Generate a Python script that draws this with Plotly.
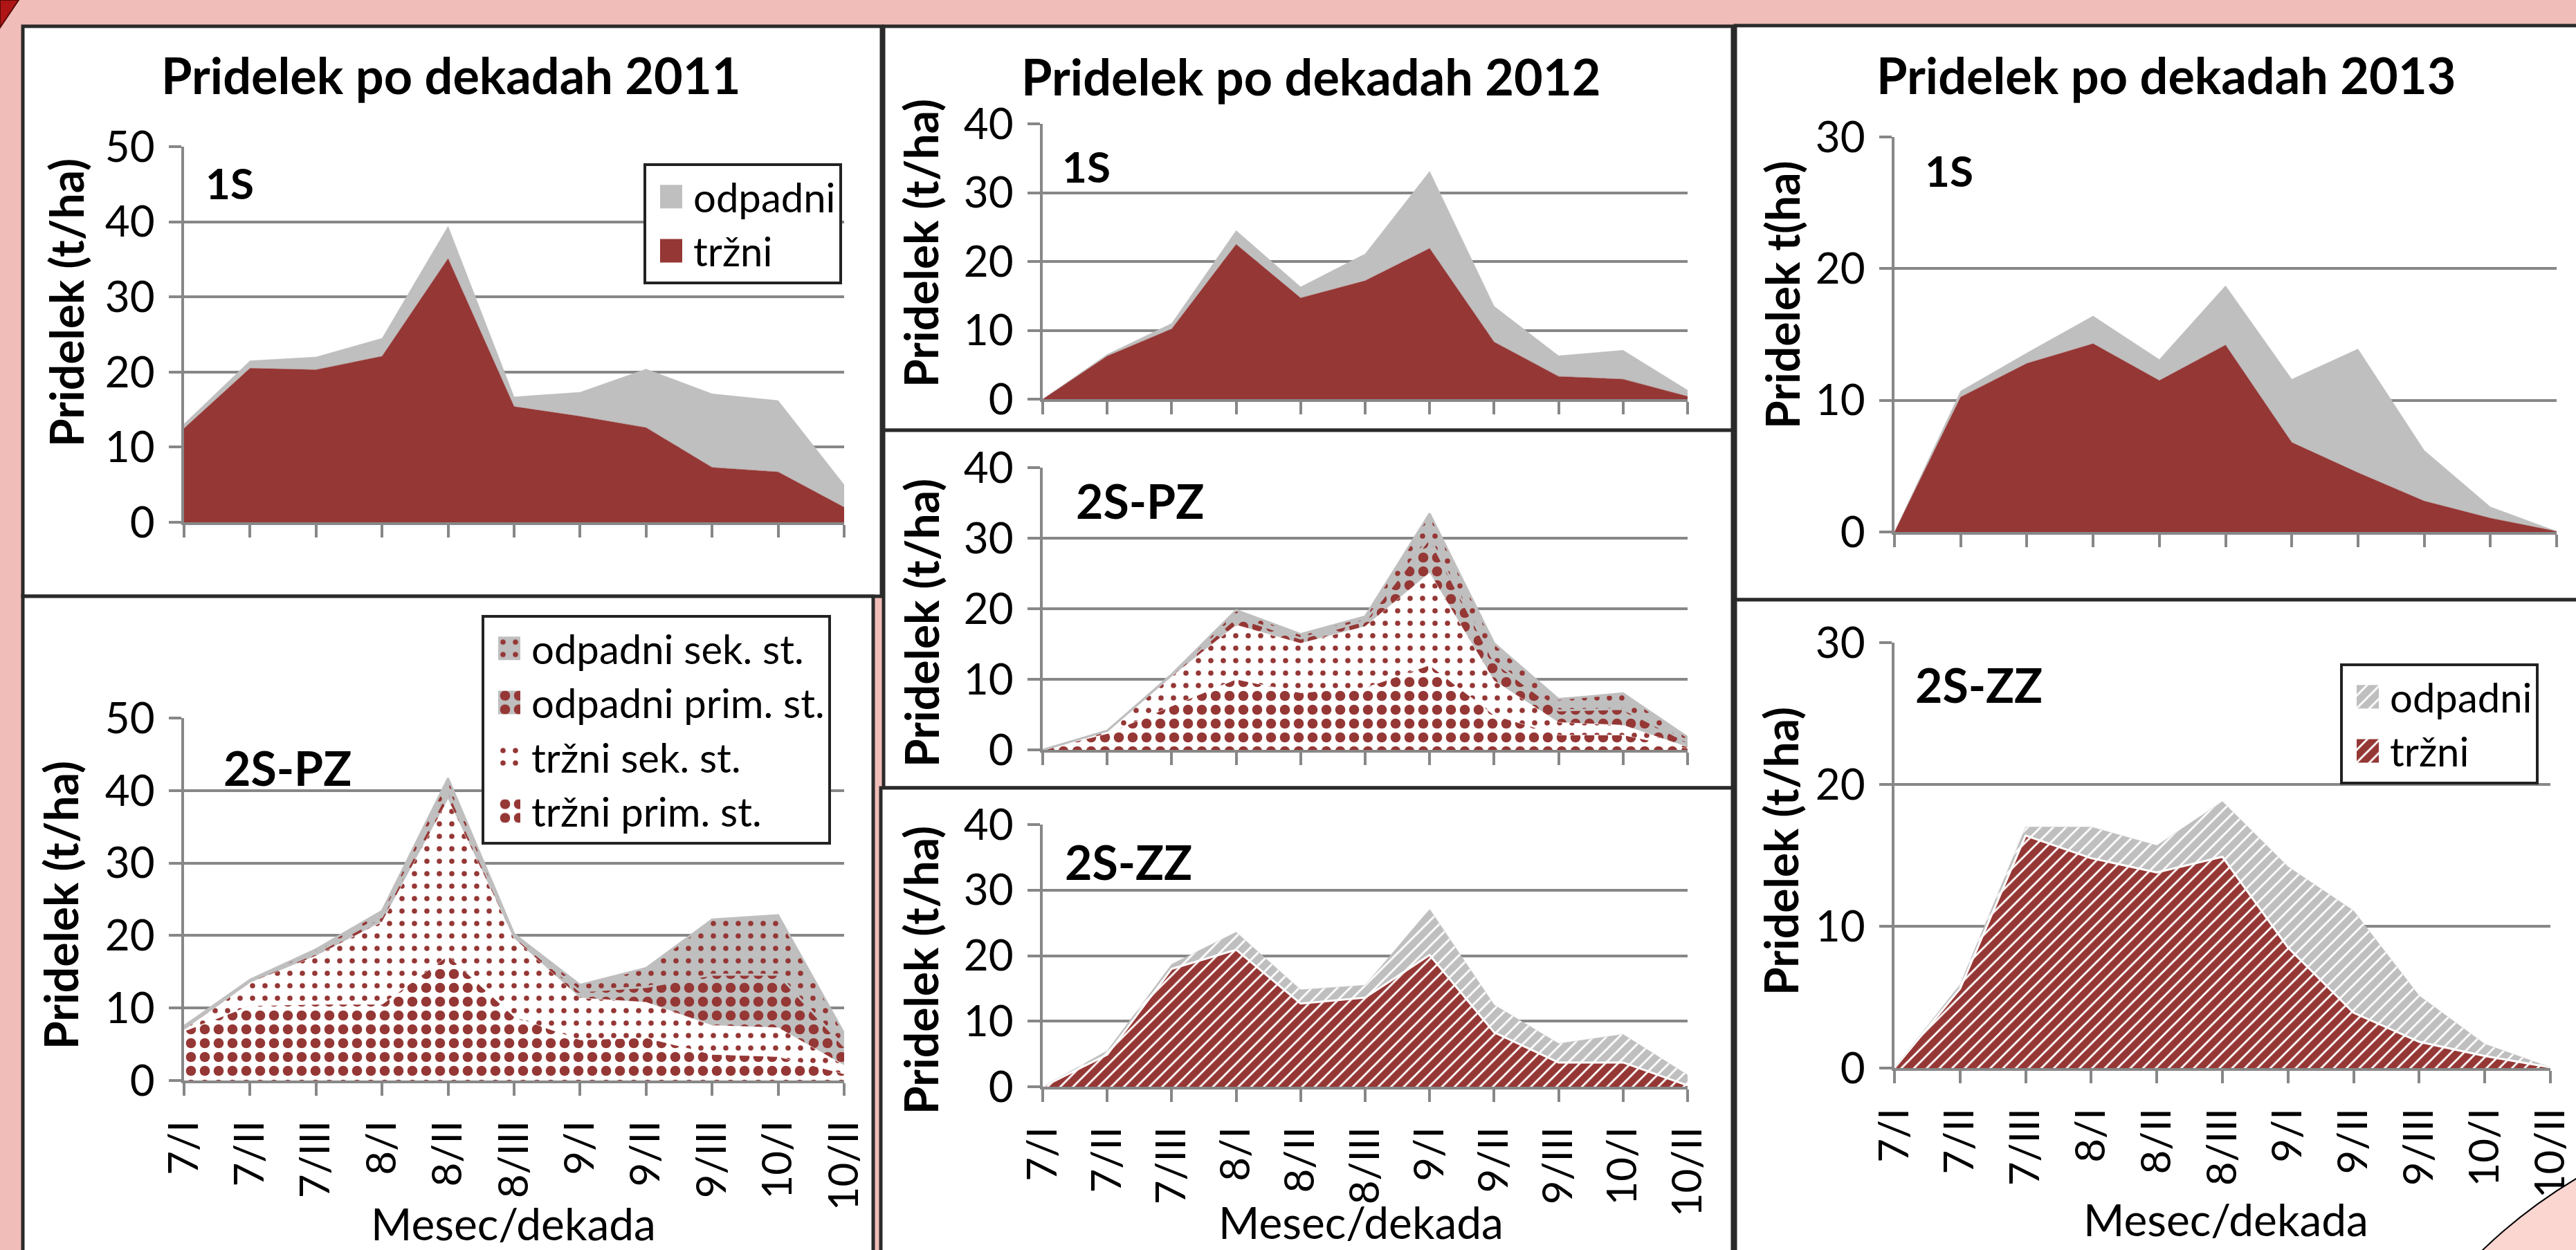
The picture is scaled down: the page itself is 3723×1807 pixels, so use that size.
import plotly.graph_objects as go

# ---------------- data ----------------
cats = ["7/I", "7/II", "7/III", "8/I", "8/II", "8/III", "9/I", "9/II", "9/III", "10/I", "10/II"]

# 2011 - 1S
trzni_2011_1s = [12.5, 20.5, 20.3, 22.1, 35.1, 15.4, 14.1, 12.6, 7.3, 6.7, 2.0]
odpadni_2011_1s = [0.6, 1.0, 1.7, 2.4, 4.3, 1.3, 3.2, 7.8, 9.8, 9.5, 3.0]

# 2011 - 2S-PZ
trzni_prim_2011 = [6.8, 10.3, 10.5, 10.5, 17.2, 8.8, 5.6, 5.9, 3.6, 3.3, 0.9]
trzni_sek_2011 = [0.2, 3.2, 6.7, 11.4, 21.6, 10.8, 5.8, 4.9, 4.0, 4.0, 1.2]
odpadni_prim_2011 = [0.2, 0.2, 0.4, 0.7, 1.2, 0.3, 0.9, 2.1, 7.0, 7.3, 2.6]
odpadni_sek_2011 = [0.3, 0.2, 0.5, 0.8, 1.7, 0.3, 0.9, 2.6, 7.6, 8.2, 1.8]

# 2012 - 1S
trzni_2012_1s = [0, 6.25, 10.2, 22.5, 14.7, 17.2, 21.9, 8.3, 3.3, 2.9, 0.4]
odpadni_2012_1s = [0, 0.25, 0.8, 2.0, 1.6, 3.9, 11.2, 5.2, 3.0, 4.2, 0.9]

# 2012 - 2S-PZ
trzni_prim_2012 = [0, 2.3, 6.2, 10.0, 8.1, 8.8, 12.0, 4.9, 2.1, 2.1, 0.2]
trzni_sek_2012 = [0, 0.4, 4.2, 7.7, 7.0, 8.7, 13.1, 4.9, 1.8, 1.4, 0.2]
odpadni_prim_2012 = [0, 0, 0.2, 1.1, 0.7, 0.8, 4.9, 2.7, 1.7, 2.3, 0.7]
odpadni_sek_2012 = [0, 0, 0.1, 1.0, 0.6, 0.6, 3.5, 2.6, 1.6, 2.2, 0.7]

# 2012 - 2S-ZZ
trzni_2012_zz = [0, 4.9, 18.0, 20.9, 12.7, 13.6, 20.1, 8.3, 3.7, 3.7, 0.2]
odpadni_2012_zz = [0, 0.6, 0.7, 2.7, 2.1, 1.9, 7.0, 4.2, 2.9, 4.3, 1.6]

# 2013 - 1S
trzni_2013_1s = [0, 10.25, 12.8, 14.3, 11.5, 14.2, 6.8, 4.5, 2.35, 1.05, 0.05]
odpadni_2013_1s = [0, 0.45, 0.8, 2.1, 1.6, 4.5, 4.8, 9.4, 3.85, 0.85, 0]

# 2013 - 2S-ZZ
trzni_2013_zz = [0, 5.6, 16.4, 14.8, 13.8, 14.9, 8.5, 3.9, 1.85, 0.85, 0.05]
odpadni_2013_zz = [0, 0.3, 0.6, 2.2, 1.9, 3.9, 5.7, 7.2, 3.25, 0.85, 0]

titles = ["Pridelek po dekadah 2011", "Pridelek po dekadah 2012", "Pridelek po dekadah 2013"]
ytitle = "Pridelek (t/ha)"
ytitle_2013_1s = "Pridelek t(ha)"
xtitle = "Mesec/dekada"

# ---------------- styling ----------------
W, H = 3723, 1807
RED = "#953735"
GRAY = "#BFBFBF"
GRID = "#878787"
BG = "#F0BDB8"
FONT = "Lato"


def px(x):
    return x / W


def py(y):
    return 1 - y / H


fig = go.Figure()

panels = {
    "A": dict(n=1, x0=266, x1=1220, yb=755, yt=212, ymax=50, xl=False),
    "B": dict(n=2, x0=266, x1=1220, yb=1562, yt=1038, ymax=50, xl=True),
    "C": dict(n=3, x0=1507, x1=2439, yb=577, yt=179, ymax=40, xl=False),
    "D": dict(n=4, x0=1507, x1=2439, yb=1084, yt=676, ymax=40, xl=False),
    "E": dict(n=5, x0=1507, x1=2439, yb=1571, yt=1192, ymax=40, xl=True),
    "F": dict(n=6, x0=2738, x1=3695, yb=769, yt=198, ymax=30, xl=False),
    "G": dict(n=7, x0=2738, x1=3686, yb=1544, yt=929, ymax=30, xl=True),
}


def axn(p, kind):
    n = panels[p]["n"]
    return kind if n == 1 else f"{kind}{n}"


def solid_pair(p, trz, odp, legend=None):
    show = legend is not None
    fig.add_trace(go.Scatter(
        x=cats, y=trz, name="tržni", stackgroup=p, mode="lines",
        line=dict(width=0.5, color=RED), fillcolor=RED,
        xaxis=axn(p, "x"), yaxis=axn(p, "y"), showlegend=show,
        legend=legend or "legend"))
    fig.add_trace(go.Scatter(
        x=cats, y=odp, name="odpadni", stackgroup=p, mode="lines",
        line=dict(width=0.5, color=GRAY), fillcolor=GRAY,
        xaxis=axn(p, "x"), yaxis=axn(p, "y"), showlegend=show,
        legend=legend or "legend"))


def zz_pair(p, trz, odp, legend=None):
    show = legend is not None
    fig.add_trace(go.Scatter(
        x=cats, y=trz, name="tržni", stackgroup=p, mode="lines",
        line=dict(width=3, color="white"), fillcolor=RED,
        fillpattern=dict(shape="/", fgcolor="white", bgcolor=RED, size=13, solidity=0.22, fgopacity=1),
        xaxis=axn(p, "x"), yaxis=axn(p, "y"), showlegend=show,
        legend=legend or "legend"))
    fig.add_trace(go.Scatter(
        x=cats, y=odp, name="odpadni", stackgroup=p, mode="lines",
        line=dict(width=0.5, color=GRAY), fillcolor=GRAY,
        fillpattern=dict(shape="/", fgcolor="white", bgcolor=GRAY, size=13, solidity=0.22, fgopacity=1),
        xaxis=axn(p, "x"), yaxis=axn(p, "y"), showlegend=show,
        legend=legend or "legend"))


def pz_quad(p, tp, ts, op, os_, legend=None):
    show = legend is not None
    specs = [
        ("tržni prim. st.", tp, "white", dict(shape=".", fgcolor=RED, bgcolor="white", size=20, solidity=0.42, fgopacity=1), "white"),
        ("tržni sek. st.", ts, "white", dict(shape=".", fgcolor=RED, bgcolor="white", size=18, solidity=0.14, fgopacity=1), "white"),
        ("odpadni prim. st.", op, GRAY, dict(shape=".", fgcolor=RED, bgcolor=GRAY, size=20, solidity=0.42, fgopacity=1), GRAY),
        ("odpadni sek. st.", os_, GRAY, dict(shape=".", fgcolor=RED, bgcolor=GRAY, size=18, solidity=0.14, fgopacity=1), GRAY),
    ]
    for name, vals, fc, pat, lc in specs:
        fig.add_trace(go.Scatter(
            x=cats, y=vals, name=name, stackgroup=p, mode="lines",
            line=dict(width=3 if lc == GRAY else 0.5, color=lc), fillcolor=fc,
            fillpattern=pat,
            xaxis=axn(p, "x"), yaxis=axn(p, "y"), showlegend=show,
            legend=legend or "legend"))


solid_pair("A", trzni_2011_1s, odpadni_2011_1s, legend="legend")
pz_quad("B", trzni_prim_2011, trzni_sek_2011, odpadni_prim_2011, odpadni_sek_2011, legend="legend2")
solid_pair("C", trzni_2012_1s, odpadni_2012_1s)
pz_quad("D", trzni_prim_2012, trzni_sek_2012, odpadni_prim_2012, odpadni_sek_2012)
zz_pair("E", trzni_2012_zz, odpadni_2012_zz)
solid_pair("F", trzni_2013_1s, odpadni_2013_1s)
zz_pair("G", trzni_2013_zz, odpadni_2013_zz, legend="legend3")

layout = dict(
    width=W, height=H, margin=dict(l=0, r=0, t=0, b=0, pad=0, autoexpand=False),
    paper_bgcolor=BG, plot_bgcolor="white",
    font=dict(family=FONT, color="black"),
)

for key, p in panels.items():
    n = p["n"]
    xk = "xaxis" if n == 1 else f"xaxis{n}"
    yk = "yaxis" if n == 1 else f"yaxis{n}"
    layout[xk] = dict(
        domain=[px(p["x0"]), px(p["x1"])], anchor=axn(key, "y"),
        type="category", range=[0, 10], showgrid=False, zeroline=False,
        showline=True, linecolor=GRID, linewidth=4,
        ticks="outside", ticklen=18, tickwidth=4, tickcolor=GRID,
        showticklabels=p["xl"], tickangle=-90,
        tickfont=dict(size=60, family=FONT, color="black"),
        ticklabelstandoff=12, fixedrange=True, automargin=False,
    )
    layout[yk] = dict(
        domain=[py(p["yb"]), py(p["yt"])], anchor=axn(key, "x"),
        range=[0, p["ymax"]], dtick=10, showgrid=True, gridcolor=GRID, gridwidth=4,
        zeroline=False, showline=True, linecolor=GRID, linewidth=4,
        ticks="outside", ticklen=18, tickwidth=4, tickcolor=GRID,
        tickfont=dict(size=62, family=FONT, color="black"),
        ticklabelstandoff=8, fixedrange=True, automargin=False,
    )

leg_common = dict(xanchor="left", yanchor="top", bgcolor="white", bordercolor="#222222",
                  borderwidth=4, traceorder="reversed", itemwidth=58,
                  font=dict(size=58, family=FONT, color="black"), tracegroupgap=0)
layout["legend"] = dict(x=px(930), y=py(236), **leg_common)
layout["legend2"] = dict(x=px(696), y=py(889), **leg_common)
layout["legend3"] = dict(x=px(3382), y=py(959), **leg_common)

frames = [
    (33, 38, 1274, 862), (33, 862, 1262, 1815),
    (1277, 38, 2504, 622), (1277, 622, 2504, 1139), (1273, 1139, 2504, 1815),
    (2508, 37, 3735, 867), (2508, 867, 3735, 1815),
]
shapes = []
for (a, b, c, d) in frames:
    shapes.append(dict(type="rect", xref="paper", yref="paper",
                       x0=px(a), x1=px(c), y0=py(b), y1=py(d),
                       fillcolor="white", line=dict(color="#2a2a2a", width=5), layer="below"))
shapes.append(dict(type="path", xref="paper", yref="paper",
                   path=f"M 0 1 L {px(27)} 1 L 0 {py(40)} Z",
                   fillcolor="#B01515", line=dict(color="#5a0a0a", width=2), layer="above"))
shapes.append(dict(type="path", xref="paper", yref="paper",
                   path=f"M {px(3583)} {py(1812)} Q {px(3648)} {py(1748)} {px(3728)} {py(1701)} L {px(3728)} {py(1812)} Z",
                   fillcolor="#FBD5D0", line=dict(color="black", width=2), layer="above"))
layout["shapes"] = shapes

ann = []


def text(x, y, s, size, bold=False, angle=0):
    ann.append(dict(x=px(x), y=py(y), xref="paper", yref="paper", text=f"<b>{s}</b>" if bold else s,
                    showarrow=False, xanchor="center", yanchor="middle", textangle=angle,
                    font=dict(size=size, family=FONT, color="black")))


text(651, 108, titles[0], 72, bold=True)
text(1894, 110, titles[1], 72, bold=True)
text(3130, 108, titles[2], 72, bold=True)

text(332, 264, "1S", 62, bold=True)
text(1570, 240, "1S", 62, bold=True)
text(2817, 246, "1S", 62, bold=True)
text(415, 1109, "2S-PZ", 68, bold=True)
text(1647, 723, "2S-PZ", 68, bold=True)
text(1631, 1245, "2S-ZZ", 68, bold=True)
text(2860, 989, "2S-ZZ", 68, bold=True)

text(95, 438, ytitle, 66, bold=True, angle=-90)
text(87, 1309, ytitle, 66, bold=True, angle=-90)
text(1331, 352, ytitle, 66, bold=True, angle=-90)
text(1331, 901, ytitle, 66, bold=True, angle=-90)
text(1330, 1403, ytitle, 66, bold=True, angle=-90)
text(2575, 426, ytitle_2013_1s, 66, bold=True, angle=-90)
text(2573, 1231, ytitle, 66, bold=True, angle=-90)

text(742, 1768, xtitle, 64)
text(1967, 1766, xtitle, 64)
text(3217, 1762, xtitle, 64)

layout["annotations"] = ann
fig.update_layout(**layout)

post = """
document.documentElement.style.margin = '0';
document.body.style.margin = '0';
document.body.style.padding = '0';
document.body.style.overflow = 'hidden';
var gd = document.getElementById('{plot_id}');
function fixLegend(){
  gd.querySelectorAll('.legendfill path').forEach(function(p){ p.setAttribute('d','M20,-17h32v34h-32z'); });
  gd.querySelectorAll('.legendlines path').forEach(function(p){ p.style.display='none'; });
}
fixLegend();
if (gd.on) { gd.on('plotly_afterplot', fixLegend); }
setTimeout(fixLegend, 300);
setTimeout(fixLegend, 1000);
"""
fig.write_html("out.html", post_script=post, config={"displayModeBar": False})
